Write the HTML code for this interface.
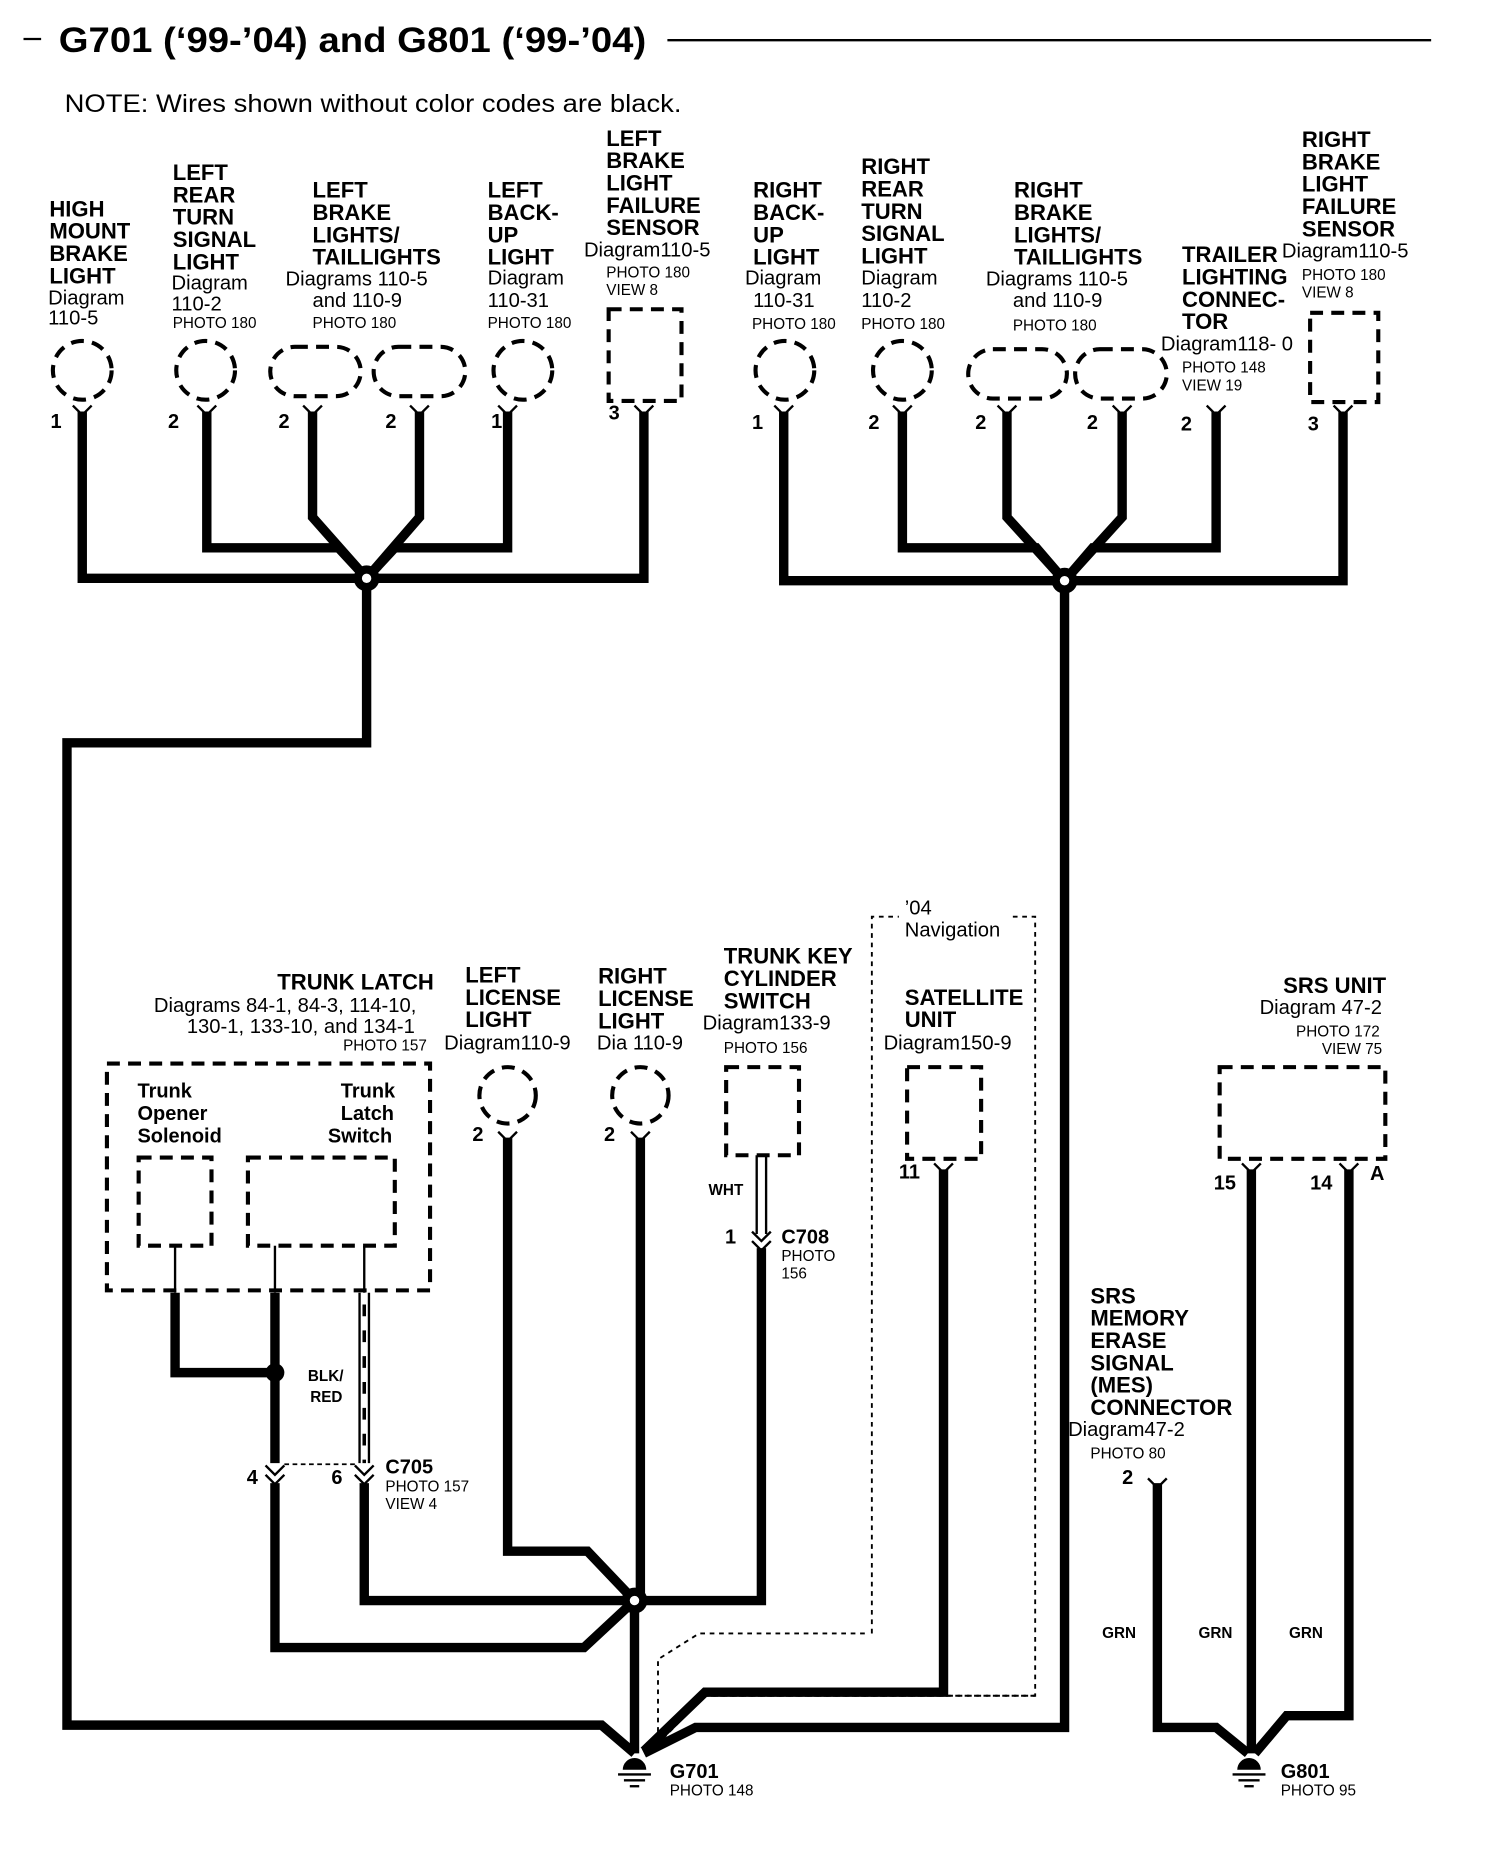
<!DOCTYPE html>
<html><head><meta charset="utf-8"><style>
html,body{margin:0;padding:0;background:#fff}
svg{display:block}
text{font-family:"Liberation Sans",sans-serif;fill:#000}
.b{font-weight:bold;font-size:18.8px}
.r{font-size:17.2px}
.s{font-size:13px}
.n{font-weight:bold;font-size:17px}
.w{fill:none;stroke:#000;stroke-width:8;stroke-linejoin:miter}
.d{fill:none;stroke:#000;stroke-width:3.5;stroke-dasharray:11,7}
.dt{fill:none;stroke:#000;stroke-width:1.6;stroke-dasharray:4,4}
.t{fill:none;stroke:#000;stroke-width:2}
</style></head><body>
<svg width="1504" height="1864" viewBox="0 0 1280 1586" xmlns="http://www.w3.org/2000/svg">
<line x1="20" y1="33" x2="35" y2="33" stroke="#000" stroke-width="2"/>
<text x="50" y="44" textLength="500" lengthAdjust="spacingAndGlyphs" style="font-weight:bold;font-size:30px">G701 (‘99-’04) and G801 (‘99-’04)</text>
<line x1="568" y1="34" x2="1218" y2="34" stroke="#000" stroke-width="2"/>
<text x="55" y="95" textLength="525" lengthAdjust="spacingAndGlyphs" style="font-size:21px">NOTE: Wires shown without color codes are black.</text>

<g class="b"><text x="42" y="184">HIGH</text><text x="42" y="203">MOUNT</text><text x="42" y="222">BRAKE</text><text x="42" y="241">LIGHT</text></g>
<text class="r" x="41" y="259">Diagram</text><text class="r" x="41" y="276">110-5</text>
<g class="b"><text x="147" y="153">LEFT</text><text x="147" y="172">REAR</text><text x="147" y="191">TURN</text><text x="147" y="210">SIGNAL</text><text x="147" y="229">LIGHT</text></g>
<text class="r" x="146" y="246">Diagram</text><text class="r" x="146" y="264">110-2</text><text class="s" x="147" y="279">PHOTO 180</text>
<g class="b"><text x="266" y="168">LEFT</text><text x="266" y="187">BRAKE</text><text x="266" y="206">LIGHTS/</text><text x="266" y="225">TAILLIGHTS</text></g>
<text class="r" x="243" y="243">Diagrams 110-5</text><text class="r" x="266" y="261">and 110-9</text><text class="s" x="266" y="279">PHOTO 180</text>
<g class="b"><text x="415" y="168">LEFT</text><text x="415" y="187">BACK-</text><text x="415" y="206">UP</text><text x="415" y="225">LIGHT</text></g>
<text class="r" x="415" y="242">Diagram</text><text class="r" x="415" y="261">110-31</text><text class="s" x="415" y="279">PHOTO 180</text>
<g class="b"><text x="516" y="124">LEFT</text><text x="516" y="143">BRAKE</text><text x="516" y="162">LIGHT</text><text x="516" y="181">FAILURE</text><text x="516" y="200">SENSOR</text></g>
<text class="r" x="497" y="218">Diagram110-5</text><text class="s" x="516" y="236">PHOTO 180</text><text class="s" x="516" y="251">VIEW 8</text>

<g class="b"><text x="641" y="168">RIGHT</text><text x="641" y="187">BACK-</text><text x="641" y="206">UP</text><text x="641" y="225">LIGHT</text></g>
<text class="r" x="634" y="242">Diagram</text><text class="r" x="641" y="261">110-31</text><text class="s" x="640" y="280">PHOTO 180</text>
<g class="b"><text x="733" y="148">RIGHT</text><text x="733" y="167">REAR</text><text x="733" y="186">TURN</text><text x="733" y="205">SIGNAL</text><text x="733" y="224">LIGHT</text></g>
<text class="r" x="733" y="242">Diagram</text><text class="r" x="733" y="261">110-2</text><text class="s" x="733" y="280">PHOTO 180</text>
<g class="b"><text x="863" y="168">RIGHT</text><text x="863" y="187">BRAKE</text><text x="863" y="206">LIGHTS/</text><text x="863" y="225">TAILLIGHTS</text></g>
<text class="r" x="839" y="243">Diagrams 110-5</text><text class="r" x="862" y="261">and 110-9</text><text class="s" x="862" y="281">PHOTO 180</text>
<g class="b"><text x="1006" y="223">TRAILER</text><text x="1006" y="242">LIGHTING</text><text x="1006" y="261">CONNEC-</text><text x="1006" y="280">TOR</text></g>
<text class="r" x="988" y="298">Diagram118- 0</text><text class="s" x="1006" y="317">PHOTO 148</text><text class="s" x="1006" y="332">VIEW 19</text>
<g class="b"><text x="1108" y="125">RIGHT</text><text x="1108" y="144">BRAKE</text><text x="1108" y="163">LIGHT</text><text x="1108" y="182">FAILURE</text><text x="1108" y="201">SENSOR</text></g>
<text class="r" x="1091" y="219">Diagram110-5</text><text class="s" x="1108" y="238">PHOTO 180</text><text class="s" x="1108" y="253">VIEW 8</text>

<g class="d">
<circle cx="70" cy="315" r="25"/><circle cx="175" cy="315" r="25"/>
<rect x="230" y="295" width="77" height="42" rx="21"/><rect x="318" y="295" width="78" height="42" rx="21"/>
<circle cx="445" cy="315" r="25"/>
<rect x="518" y="263" width="62" height="78"/>
<circle cx="668" cy="315" r="25"/><circle cx="768" cy="315" r="25"/>
<rect x="824" y="297" width="84" height="42" rx="21"/><rect x="915" y="297" width="78" height="42" rx="21"/>
<rect x="1115" y="266" width="58" height="76"/>
</g>
<g class="n">
<text x="43" y="364">1</text><text x="143" y="364">2</text><text x="237" y="364">2</text><text x="328" y="364">2</text><text x="418" y="364">1</text><text x="518" y="357">3</text>
<text x="640" y="365">1</text><text x="739" y="365">2</text><text x="830" y="365">2</text><text x="925" y="365">2</text><text x="1005" y="366">2</text><text x="1113" y="366">3</text>
</g>

<g class="t" stroke-width="3.5">
<path d="M62,345 L70,353 L78,345"/><path d="M168,345 L176,353 L184,345"/><path d="M258,345 L266,353 L274,345"/><path d="M349,345 L357,353 L365,345"/><path d="M424,345 L432,353 L440,345"/><path d="M540,345 L548,353 L556,345"/>
<path d="M659,345 L667,353 L675,345"/><path d="M760,345 L768,353 L776,345"/><path d="M849,345 L857,353 L865,345"/><path d="M947,345 L955,353 L963,345"/><path d="M1027,345 L1035,353 L1043,345"/><path d="M1135,345 L1143,353 L1151,345"/>
</g>

<g class="w">
<path d="M70,350 V492 H548 V350"/>
<path d="M176,350 V466 H288 L312,492"/>
<path d="M266,350 V440 L312,492"/>
<path d="M357,350 V440 L312,492"/>
<path d="M432,350 V466 H336 L312,492"/>
<path d="M312,492 V632 H57 V1468 H512 L540,1492"/>
<path d="M667,350 V494 H1143 V350"/>
<path d="M768,350 V466 H882 L906,494"/>
<path d="M857,350 V440 L906,494"/>
<path d="M955,350 V440 L906,494"/>
<path d="M1035,350 V466 H930 L906,494"/>
<path d="M906,494 V1470 H592 L548,1492"/>
</g>
<circle cx="312" cy="492" r="11" fill="#000"/><circle cx="312" cy="492" r="4" fill="#fff"/>
<circle cx="906" cy="494" r="11" fill="#000"/><circle cx="906" cy="494" r="4" fill="#fff"/>

<text class="b" x="236" y="842">TRUNK LATCH</text>
<text class="r" x="131" y="861">Diagrams 84-1, 84-3, 114-10,</text>
<text class="r" x="159" y="879">130-1, 133-10, and 134-1</text>
<text class="s" x="292" y="894">PHOTO 157</text>
<g class="b"><text x="396" y="836">LEFT</text><text x="396" y="855">LICENSE</text><text x="396" y="874">LIGHT</text></g>
<text class="r" x="378" y="893">Diagram110-9</text>
<g class="b"><text x="509" y="837">RIGHT</text><text x="509" y="856">LICENSE</text><text x="509" y="875">LIGHT</text></g>
<text class="r" x="508" y="893">Dia 110-9</text>
<g class="b"><text x="616" y="820">TRUNK KEY</text><text x="616" y="839">CYLINDER</text><text x="616" y="858">SWITCH</text></g>
<text class="r" x="598" y="876">Diagram133-9</text><text class="s" x="616" y="896">PHOTO 156</text>
<text class="r" x="770" y="778">’04</text><text class="r" x="770" y="797">Navigation</text>
<g class="b"><text x="770" y="855">SATELLITE</text><text x="770" y="874">UNIT</text></g>
<text class="r" x="752" y="893">Diagram150-9</text>
<text class="b" x="1092" y="845">SRS UNIT</text>
<text class="r" x="1072" y="863">Diagram 47-2</text>
<text class="s" x="1103" y="882">PHOTO 172</text><text class="s" x="1125" y="897">VIEW 75</text>
<g class="b"><text x="928" y="1109">SRS</text><text x="928" y="1128">MEMORY</text><text x="928" y="1147">ERASE</text><text x="928" y="1166">SIGNAL</text><text x="928" y="1185">(MES)</text><text x="928" y="1204">CONNECTOR</text></g>
<text class="r" x="909" y="1222">Diagram47-2</text><text class="s" x="928" y="1241">PHOTO 80</text>

<path class="dt" d="M742,1390 V780 H765 M862,780 H881 V1443 H600"/>
<path class="dt" d="M736,1390 H595 L560,1412 V1488"/>
<path class="dt" d="M881,1443 H600 L552,1492"/>

<rect class="d" x="91" y="905" width="275" height="193"/>
<g style="font-weight:bold;font-size:17px"><text x="117" y="934">Trunk</text><text x="117" y="953">Opener</text><text x="117" y="972">Solenoid</text>
<text x="290" y="934">Trunk</text><text x="290" y="953">Latch</text><text x="279" y="972">Switch</text></g>
<rect class="d" x="118" y="985" width="62" height="75"/>
<rect class="d" x="211" y="985" width="125" height="75"/>
<line class="t" x1="149" y1="1060" x2="149" y2="1100"/>
<line class="t" x1="234" y1="1060" x2="234" y2="1100"/>
<line class="t" x1="310" y1="1060" x2="310" y2="1100"/>

<g class="d">
<circle cx="432" cy="932" r="24"/><circle cx="545" cy="932" r="24"/>
<rect x="618" y="908" width="62" height="75"/>
<rect x="772" y="908" width="63" height="78"/>
<rect x="1038" y="908" width="141" height="78"/>
</g>
<g class="n"><text x="402" y="971">2</text><text x="514" y="971">2</text><text x="765" y="1003">11</text><text x="1033" y="1012">15</text><text x="1115" y="1012">14</text><text x="1166" y="1004">A</text><text x="955" y="1263">2</text>
<text x="210" y="1263">4</text><text x="282" y="1263">6</text><text x="617" y="1058">1</text></g>

<g class="t" stroke-width="3.5">
<path d="M424,963 L432,971 L440,963"/><path d="M537,963 L545,971 L553,963"/>
<path d="M795,990 L803,998 L811,990"/><path d="M1057,990 L1065,998 L1073,990"/><path d="M1140,990 L1148,998 L1156,990"/>
<path d="M977,1258 L985,1266 L993,1258"/>
<path d="M640,1048 L648,1056 L656,1048"/><path d="M640,1056 L648,1064 L656,1056"/>
<path d="M226,1247 L234,1255 L242,1247"/><path d="M226,1255 L234,1263 L242,1255"/>
<path d="M302,1247 L310,1255 L318,1247"/><path d="M302,1255 L310,1263 L318,1255"/>
</g>
<line x1="242" y1="1246" x2="302" y2="1246" stroke="#000" stroke-width="1.5" stroke-dasharray="4,3"/>

<path d="M644,983 V1050 M652,983 V1050" stroke="#000" stroke-width="2" fill="none"/>
<text class="s" x="603" y="1017" style="font-weight:bold">WHT</text>
<text class="n" x="665" y="1058">C708</text><text class="s" x="665" y="1073">PHOTO</text><text class="s" x="665" y="1088">156</text>

<path d="M306,1100 V1245 M314,1100 V1245" stroke="#000" stroke-width="2" fill="none"/>
<path d="M310,1110 V1245" stroke="#000" stroke-width="3" stroke-dasharray="10,12" fill="none"/>
<text class="s" x="262" y="1175" style="font-weight:bold">BLK/</text><text class="s" x="264" y="1193" style="font-weight:bold">RED</text>
<text class="n" x="328" y="1254">C705</text><text class="s" x="328" y="1269">PHOTO 157</text><text class="s" x="328" y="1284">VIEW 4</text>

<g class="w">
<path d="M149,1100 V1168 H234"/>
<path d="M234,1100 V1245"/>
<path d="M234,1262 V1402 H497 L540,1362"/>
<path d="M310,1262 V1362 H540"/>
<path d="M432,968 V1320 H500 L540,1362"/>
<path d="M545,968 V1362"/>
<path d="M648,1062 V1362 H540"/>
<path d="M540,1362 V1492"/>
<path d="M803,995 V1440 H600 L548,1490"/>
<path d="M1065,995 V1492"/>
<path d="M1148,995 V1460 H1095 L1068,1492"/>
<path d="M985,1262 V1470 H1035 L1062,1492"/>
</g>
<circle cx="234" cy="1168" r="8" fill="#000"/>
<circle cx="540" cy="1362" r="11" fill="#000"/><circle cx="540" cy="1362" r="4" fill="#fff"/>
<g class="s" style="font-weight:bold"><text x="938" y="1394">GRN</text><text x="1020" y="1394">GRN</text><text x="1097" y="1394">GRN</text></g>

<g>
<path d="M530,1506 a10,10 0 0 1 20,0 z" fill="#000"/>
<line x1="526" y1="1510" x2="554" y2="1510" stroke="#000" stroke-width="2"/>
<line x1="531" y1="1515" x2="549" y2="1515" stroke="#000" stroke-width="2"/>
<line x1="536" y1="1520" x2="544" y2="1520" stroke="#000" stroke-width="2"/>
<path d="M1053,1506 a10,10 0 0 1 20,0 z" fill="#000"/>
<line x1="1049" y1="1510" x2="1077" y2="1510" stroke="#000" stroke-width="2"/>
<line x1="1054" y1="1515" x2="1072" y2="1515" stroke="#000" stroke-width="2"/>
<line x1="1059" y1="1520" x2="1067" y2="1520" stroke="#000" stroke-width="2"/>
</g>
<text class="n" x="570" y="1513">G701</text><text class="s" x="570" y="1528">PHOTO 148</text>
<text class="n" x="1090" y="1513">G801</text><text class="s" x="1090" y="1528">PHOTO 95</text>
</svg>
</body></html>
